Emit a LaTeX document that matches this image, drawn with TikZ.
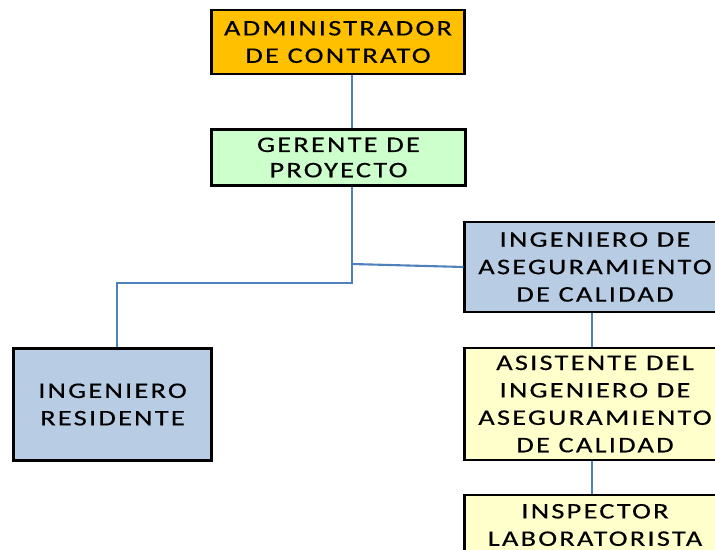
\documentclass[tikz,border=0pt]{standalone}
\usepackage{fontspec}
\setmainfont{Carlito}[LetterSpace=10,FakeStretch=1.28,FakeBold=0.4]
\usetikzlibrary{positioning}
\definecolor{orangebox}{HTML}{FFC000}
\definecolor{greenbox}{HTML}{CCFFCC}
\definecolor{bluebox}{HTML}{B8CCE4}
\definecolor{yellowbox}{HTML}{FFFFCC}
\definecolor{linkblue}{HTML}{4F81BD}
\tikzset{
 cargo/.style={draw=black,line width=2.1pt,align=center,inner sep=0pt,
  font=\fontsize{15.8}{19.5}\selectfont},
 enlace/.style={draw=linkblue,line width=1.5pt}
}
\begin{document}
\begin{tikzpicture}[x=0.025cm,y=-0.025cm]
 \useasboundingbox (0,0) rectangle (715,550);
 \clip (0,0) rectangle (715,550);
 % cajas
 \node[cargo,fill=orangebox,minimum width=6.32cm,minimum height=1.6cm] (admin) at (338,42) {ADMINISTRADOR\\DE CONTRATO};
 \node[cargo,fill=greenbox,minimum width=6.37cm,minimum height=1.42cm,font=\fontsize{15.8}{18}\selectfont] (gerente) at (338.5,157.5) {GERENTE DE\\PROYECTO};
 \node[cargo,fill=bluebox,minimum width=6.5cm,minimum height=2.25cm] (aseg) at (595,267) {INGENIERO DE\\ASEGURAMIENTO\\DE CALIDAD};
 \node[cargo,fill=yellowbox,minimum width=6.5cm,minimum height=2.8cm] (asist) at (595,404) {ASISTENTE DEL\\INGENIERO DE\\ASEGURAMIENTO\\DE CALIDAD};
 \node[cargo,fill=yellowbox,minimum width=6.5cm,minimum height=1.5cm] (insp) at (595,525) {INSPECTOR\\LABORATORISTA};
 \node[cargo,fill=bluebox,minimum width=4.97cm,minimum height=2.82cm] (resid) at (112.5,404.5) {INGENIERO\\RESIDENTE};
 % enlaces
 \coordinate (tronco) at (352,0);
 \coordinate (rama) at (352,283);
 \coordinate (codo) at (117,283);
 \coordinate (cruce) at (352,264);
 \coordinate (eje) at (592,0);
 \draw[enlace] (admin.south -| tronco) -- (gerente.north -| tronco);
 \draw[enlace] (gerente.south -| tronco) -- (rama) -- (codo) -- (resid.north -| codo);
 \draw[enlace] (cruce) -- (aseg.west);
 \draw[enlace] (aseg.south -| eje) -- (asist.north -| eje);
 \draw[enlace] (asist.south -| eje) -- (insp.north -| eje);
\end{tikzpicture}
\end{document}
